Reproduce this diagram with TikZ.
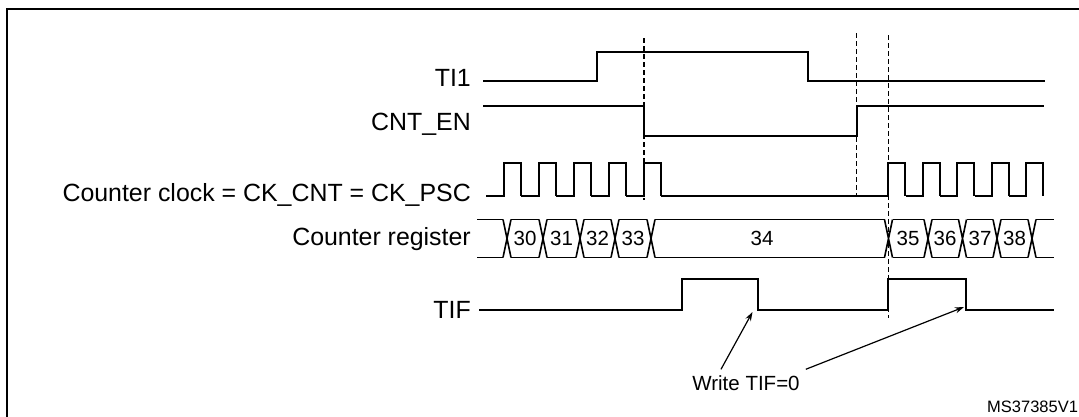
\documentclass[tikz,border=0pt]{standalone}
\usepackage{fontspec}
\setmainfont{Liberation Sans}
\usetikzlibrary{arrows.meta}
\tikzset{
  wave/.style={line width=2pt, line join=miter},
  reg/.style={line width=1.6pt},
  guide/.style={line width=1.5pt, dash pattern=on 5pt off 3pt},
  lbl/.style={font=\fontsize{24.9}{30}\selectfont, anchor=base east, inner sep=0pt},
  num/.style={font=\fontsize{20.5}{24}\selectfont, inner sep=0pt},
  note/.style={line width=1.2pt, -{Stealth[length=9pt,width=6pt]}}
}
\begin{document}
\begin{tikzpicture}[x=1pt,y=-1pt]
    \useasboundingbox (0,0) rectangle (1079,416);

    % Marco
    \draw[line width=2.5pt] (7,430) -- (7,9) -- (1090,9);

    % Etiquetas
    \node[lbl] (ti1) at (471,86) {TI1};
    \node[lbl] (cnten) at (471,130.7) {CNT\_EN};
    \node[lbl] (ckcnt) at (471,201.5) {Counter clock = CK\_CNT = CK\_PSC};
    \node[lbl] (cntreg) at (471,245) {Counter register};
    \node[lbl] (tif) at (471,318.3) {TIF};

    % TI1 y CNT_EN
    \draw[wave] (483,80.5) -| (597,51.5) -| (807.5,80.5) -- (1045,80.5);
    \draw[wave] (483,106) -| (644,135.5) -| (856.5,106) -- (1044,106);

    % Reloj
    \draw[wave] (661,195.5) -- (888,195.5);
    \foreach \r in {503.5,538.5,573.5,608.5,643.5}
        \draw[wave] (\r-17.5,195.5) -| (\r,163) -| (\r+17.5,195.5);
    \foreach \r in {888,922.5,957,991.5,1026}
        \draw[wave] (\r-17,195.5) -| (\r,163) -| (\r+17,195.5);

    % Registro
    \foreach \c in {507,543,580,615,651,888.5,928,962.5,997,1032}
        \draw[reg] (\c-4,219.5) -- (\c+4,257.5) (\c-4,257.5) -- (\c+4,219.5);
    \foreach \a/\b in {473/507,507/543,543/580,580/615,615/651,651/888.5,888.5/928,928/962.5,962.5/997,997/1032,1032/1058}
        \draw[reg] (\a+4,219.5) -- (\b-4,219.5) (\a+4,257.5) -- (\b-4,257.5);
    \foreach \x/\v in {525/30,561.5/31,597.5/32,633/33,762/34,908/35,945/36,980/37,1014.5/38}
        \node[num] (n\v) at (\x,238.5) {\v};

    % TIF
    \draw[wave] (479,310) -| (682,278.5) -| (757.5,310) -| (888.3,278.5) -| (966,310) -- (1054,310);

    % Guias
    \draw[guide] (644,38) -- (644,200);
    \draw[guide] (856.5,33) -- (856.5,197);
    \draw[guide] (888.3,35) -- (888.3,318);

    % Notas
    \node[num, inner sep=6pt] (write) at (746,383) {Write TIF=0};
    \coordinate (clr1) at (752.5,312);
    \coordinate (clr2) at (964,307);
    \draw[note] ([xshift=-25pt]write.north) -- (clr1);
    \draw[note] (write.north east) -- (clr2);
    \node[anchor=west, inner sep=0pt, font=\fontsize{16.5}{20}\selectfont] (msid) at (987,407) {MS37385V1};
\end{tikzpicture}
\end{document}
